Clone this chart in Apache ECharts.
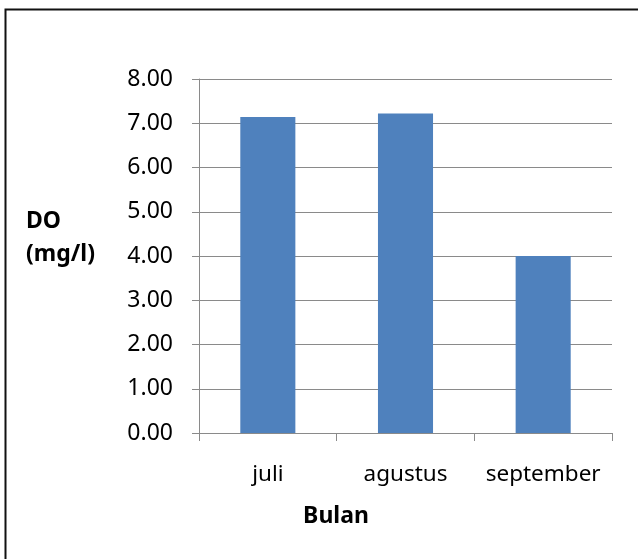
<!DOCTYPE html>
<html>
<head>
<meta charset="utf-8">
<script src="https://cdn.jsdelivr.net/npm/echarts@6/dist/echarts.min.js"></script>
<style>
  html, body { margin: 0; padding: 0; background: #fff; }
  #chart { width: 638px; height: 559px; }
</style>
</head>
<body>
<div id="chart"></div>
<script>
// Dissolved oxygen by month
const months = ['juli', 'agustus', 'september'];
const doValues = [7.14, 7.22, 4.00];
const yTicks = [0, 1, 2, 3, 4, 5, 6, 7, 8];

const FONT = '"Noto Sans", "Open Sans", sans-serif';
const GRID_GRAY = '#8a8a8a';

const chart = echarts.init(document.getElementById('chart'));
chart.setOption({
  animation: false,
  backgroundColor: '#fff',
  grid: { left: 199, right: 26, top: 79, bottom: 126, containLabel: false },
  xAxis: {
    type: 'category',
    data: months,
    boundaryGap: true,
    axisLine: { show: true, lineStyle: { color: GRID_GRAY, width: 1 } },
    axisTick: { show: true, interval: 0, alignWithLabel: false, length: 8, lineStyle: { color: GRID_GRAY } },
    axisLabel: { interval: 0, hideOverlap: false, color: '#000', fontFamily: FONT, fontSize: 22.5, margin: 30 }
  },
  yAxis: {
    type: 'value',
    min: yTicks[0],
    max: yTicks[yTicks.length - 1],
    interval: 1,
    axisLine: { show: true, lineStyle: { color: GRID_GRAY, width: 1 } },
    axisTick: { show: true, length: 7, lineStyle: { color: GRID_GRAY } },
    splitLine: { show: true, lineStyle: { color: GRID_GRAY, width: 1 } },
    axisLabel: {
      color: '#000', fontFamily: FONT, fontSize: 23, margin: 26,
      formatter: v => v.toFixed(2)
    }
  },
  series: [{
    type: 'bar',
    data: doValues,
    barWidth: '40%',
    itemStyle: { color: '#4f81bd' }
  }],
  graphic: [
    {
      type: 'rect', silent: true,
      shape: { x: 5.5, y: 9.5, width: 700, height: 700 },
      style: { fill: 'none', stroke: '#111', lineWidth: 2 }
    },
    {
      type: 'text', left: 26, top: 210,
      style: { text: 'DO', font: 'bold 23px ' + FONT, fill: '#000' }
    },
    {
      type: 'text', left: 26, top: 243,
      style: { text: '(mg/l)', font: 'bold 23px ' + FONT, fill: '#000' }
    },
    {
      type: 'text', x: 336, y: 516,
      style: { text: 'Bulan', font: 'bold 23px ' + FONT, fill: '#000', align: 'center', verticalAlign: 'middle' }
    }
  ]
});
</script>
</body>
</html>
